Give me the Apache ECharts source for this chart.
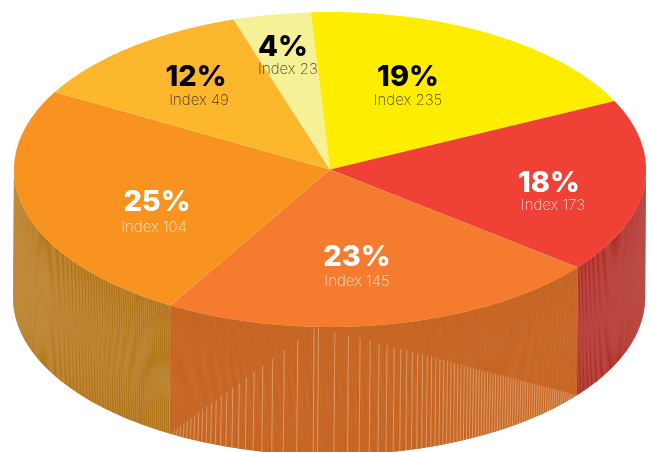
<!DOCTYPE html>
<html>
<head>
<meta charset="utf-8">
<style>html,body{margin:0;padding:0;background:#fff}#chart{width:651px;height:452px}</style>
<script src="https://cdn.jsdelivr.net/npm/echarts@6/dist/echarts.min.js"></script>
</head>
<body>
<div id="chart"></div>
<script>
// Share of each segment and its index, clockwise from the top of the disc.
const shares = [19, 18, 23, 25, 12, 4];
const indexes = [235, 173, 145, 104, 49, 23];
const topColors = ['#FFED00', '#EF4136', '#F57C2F', '#F7931E', '#FDB72C', '#F6F096'];
const wallColors = ['#B0802A', '#AE2E28', '#C66522', '#B4761A', '#C08A30', '#C0B060'];
const wallSeams = ['#C8A060', '#D88E86', '#CF7C45', '#DDB98A', '#D0A860', '#D0C080'];
const darkText = [true, false, false, false, true, true];

// Centres of the percent and index captions, in pixels.
const percentAt = [[408, 77], [549, 183], [357, 257], [157, 202], [196, 77], [283, 47]];
const indexAt = [[408, 100], [553, 205], [357, 281], [154, 227], [199, 100], [288, 69]];

const startAngle = -3.5;           // degrees clockwise from the top
const depth = 0.813;               // wall height, in disc radii
const lean = 0.003;                // the lower rim sits slightly to the left
const facetDegrees = 0.426;        // width of one wall facet
const streakSegment = 2;           // the front wall carries a wedge of pale streaks
const streakApex = 0.66;           // where the wedge peaks along that wall's span
const streakTint = 'rgba(246,205,165,0.6)';

const total = shares.reduce((a, b) => a + b, 0);
const spans = [];
shares.reduce((from, v) => {
  const to = from + v / total * 360;
  spans.push([from, to]);
  return to;
}, startAngle);

const rim = (deg) => {
  const r = deg * Math.PI / 180;
  return [Math.sin(r), Math.cos(r)];
};

const chart = echarts.init(document.getElementById('chart'), null, { renderer: 'canvas' });

// Pale streaks hang from two straight edges running from the apex down to the wall's
// lower corners, sparse under the apex and tight towards the corners.
function wedgeStreaks(from, to, api) {
  const apex = from + (to - from) * streakApex;
  const top = rim(apex);
  const lines = [];
  [to, from].forEach((end) => {
    const reach = Math.abs(end - apex);
    const dir = Math.sign(end - apex);
    const corner = rim(end);
    const cornerY = corner[1] - depth;
    let d = 0.4;
    while (d < reach) {
      const p = rim(apex + dir * d);
      // Height of the wedge edge at this horizontal position.
      const share = (p[0] - top[0]) / (corner[0] - top[0]);
      const edgeY = top[1] + (cornerY - top[1]) * share;
      const head = api.coord([p[0], Math.min(edgeY, p[1])]);
      const foot = api.coord([p[0] - lean, p[1] - depth]);
      lines.push({
        type: 'line', silent: true,
        shape: { x1: head[0], y1: head[1], x2: foot[0], y2: foot[1] },
        style: { stroke: streakTint, lineWidth: 0.8 }
      });
      d += 2.5 * Math.pow(Math.max(0, 1 - d / 40), 3) + 0.55;
    }
  });
  return lines;
}

function renderWall(params, api) {
  const i = params.dataIndex;
  const from = Math.max(spans[i][0], 90);
  const to = Math.min(spans[i][1], 270);
  const children = [];
  if (to <= from) return { type: 'group', children };
  const fill = wallColors[i];
  // Pale backing that shows through between neighbouring facets.
  const outline = [];
  for (let a = from; a < to; a += 1) outline.push(api.coord(rim(a)));
  outline.push(api.coord(rim(to)));
  for (let a = to; a > from; a -= 1) {
    const p = rim(a);
    outline.push(api.coord([p[0] - lean, p[1] - depth]));
  }
  const pf = rim(from);
  outline.push(api.coord([pf[0] - lean, pf[1] - depth]));
  children.push({ type: 'polygon', silent: true, shape: { points: outline }, style: { fill: wallSeams[i] } });
  for (let a = from; a < to; a += facetDegrees) {
    const b = Math.min(a + facetDegrees, to);
    const pa = rim(a), pb = rim(b);
    const t1 = api.coord(pa), t2 = api.coord(pb);
    const b1 = api.coord([pa[0] - lean, pa[1] - depth]);
    const b2 = api.coord([pb[0] - lean, pb[1] - depth]);
    children.push(
      { type: 'polygon', silent: true, shape: { points: [t1, t2, b2] }, style: { fill } },
      { type: 'polygon', silent: true, shape: { points: [t1, b2, b1] }, style: { fill } }
    );
  }
  if (i === streakSegment) children.push(...wedgeStreaks(from, to, api));
  return { type: 'group', children };
}

function renderTop(params, api) {
  const i = params.dataIndex;
  const pts = [api.coord([0, 0])];
  for (let a = spans[i][0]; a < spans[i][1]; a += 0.5) pts.push(api.coord(rim(a)));
  pts.push(api.coord(rim(spans[i][1])));
  const ink = darkText[i] ? '#000' : '#fff';
  const sub = darkText[i] ? 'rgba(0,0,0,0.72)' : 'rgba(255,255,255,0.78)';
  return {
    type: 'group',
    children: [
      { type: 'polygon', silent: true, shape: { points: pts }, style: { fill: topColors[i] } },
      {
        type: 'text', silent: true, z2: 5, x: percentAt[i][0], y: percentAt[i][1],
        style: {
          text: api.value(0) + '%', fill: ink, align: 'center', verticalAlign: 'middle',
          font: '800 29px Inter, "Open Sans", sans-serif'
        }
      },
      {
        type: 'text', silent: true, z2: 5, x: indexAt[i][0], y: indexAt[i][1],
        style: {
          text: 'Index ' + api.value(1), fill: sub, align: 'center', verticalAlign: 'middle',
          font: '200 15px Inter, "Open Sans", sans-serif'
        }
      }
    ]
  };
}

const rows = shares.map((v, i) => [v, indexes[i]]);

chart.setOption({
  animation: false,
  backgroundColor: '#fff',
  grid: { left: 14, top: 12, width: 632, height: 315 },
  xAxis: { type: 'value', min: -1, max: 1, show: false },
  yAxis: { type: 'value', min: -1, max: 1, show: false },
  series: [
    { type: 'custom', coordinateSystem: 'cartesian2d', clip: false, z: 1, data: rows, renderItem: renderWall, encode: { x: -1, y: -1 } },
    { type: 'custom', coordinateSystem: 'cartesian2d', clip: false, z: 2, data: rows, renderItem: renderTop, encode: { x: -1, y: -1 } }
  ]
});
</script>
</body>
</html>
